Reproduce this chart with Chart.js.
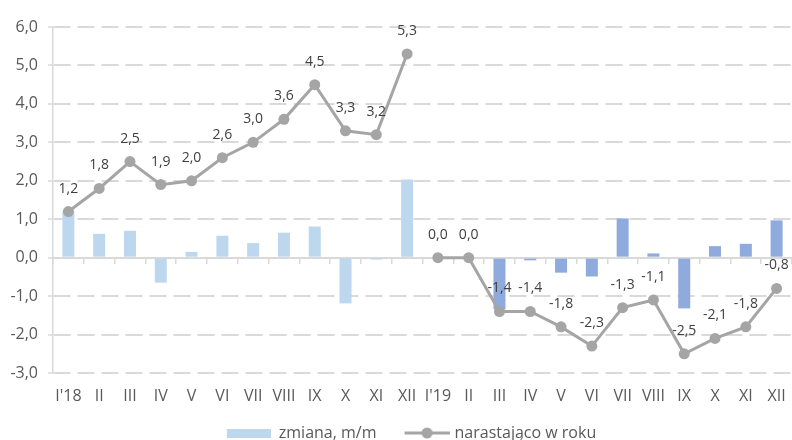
<!DOCTYPE html>
<html>
<head>
<meta charset="utf-8">
<script src="https://cdn.jsdelivr.net/npm/chart.js@4/dist/chart.umd.min.js"></script>
<style>
  html, body { margin: 0; padding: 0; background: #ffffff; }
  #wrap { width: 792px; height: 440px; overflow: hidden; position: relative; }
  canvas { display: block; }
</style>
</head>
<body>
<div id="wrap"><canvas id="chart" width="792" height="451"></canvas></div>
<script>
// Miesiące 2018–2019
const months = ["I'18", "II", "III", "IV", "V", "VI", "VII", "VIII", "IX", "X", "XI", "XII",
                "I'19", "II", "III", "IV", "V", "VI", "VII", "VIII", "IX", "X", "XI", "XII"];

// zmiana, m/m
const monthlyChange = [1.2, 0.62, 0.7, -0.65, 0.15, 0.57, 0.38, 0.65, 0.81, -1.19, -0.05, 2.03,
                       0.0, 0.0, -1.34, -0.07, -0.39, -0.49, 1.02, 0.11, -1.32, 0.3, 0.36, 0.97];

// narastająco w roku
const cumulative = [1.2, 1.8, 2.5, 1.9, 2.0, 2.6, 3.0, 3.6, 4.5, 3.3, 3.2, 5.3,
                    0.0, 0.0, -1.4, -1.4, -1.8, -2.3, -1.3, -1.1, -2.5, -2.1, -1.8, -0.8];

const yTicks = { min: -3, max: 6, step: 1 };

const FONT = "'Open Sans', 'Noto Sans', sans-serif";
const BAR_2018 = '#BDD7EE';
const BAR_2019 = '#8FAADC';
const LINE_GREY = '#A5A5A5';
const GRID = '#D9D9D9';
const TEXT = '#595959';
const YEAR_BREAK = 11; // last month of 2018
const LEGEND_BOX = 50;

const fmt = v => v.toFixed(1).replace('.', ',').replace('-0,0', '0,0');

// widest y tick label, used to right-align the mirrored labels left of the axis
const widestYLabel = (() => {
  const g = document.createElement('canvas').getContext('2d');
  g.font = '16px ' + FONT;
  let w = 0;
  for (let v = yTicks.min; v <= yTicks.max; v += yTicks.step) {
    w = Math.max(w, g.measureText(fmt(v)).width);
  }
  return w;
})();

// legend swatches
function barSwatch() {
  const c = document.createElement('canvas');
  c.width = LEGEND_BOX; c.height = 9;
  const g = c.getContext('2d');
  g.fillStyle = BAR_2018;
  g.fillRect(LEGEND_BOX - 44, 0, 44, 9);
  return c;
}
function lineSwatch() {
  const c = document.createElement('canvas');
  c.width = LEGEND_BOX + 6; c.height = 12;
  const g = c.getContext('2d');
  g.strokeStyle = LINE_GREY;
  g.lineWidth = 3;
  g.beginPath();
  g.moveTo(11, 6); g.lineTo(56, 6);
  g.stroke();
  g.fillStyle = LINE_GREY;
  g.beginPath();
  g.arc(33.5, 6, 5.5, 0, Math.PI * 2);
  g.fill();
  return c;
}
const swatches = [barSwatch(), lineSwatch()];

// value labels above the cumulative line
const pointLabels = {
  id: 'pointLabels',
  afterDatasetsDraw(chart) {
    const meta = chart.getDatasetMeta(1);
    const data = chart.data.datasets[1].data;
    const ctx = chart.ctx;
    ctx.save();
    ctx.font = '14px ' + FONT;
    ctx.fillStyle = '#404040';
    ctx.textAlign = 'center';
    ctx.textBaseline = 'middle';
    meta.data.forEach((pt, i) => {
      ctx.fillText(fmt(data[i]), pt.x, pt.y - 23);
    });
    ctx.restore();
  }
};

new Chart(document.getElementById('chart'), {
  data: {
    labels: months,
    datasets: [
      {
        type: 'bar',
        label: 'zmiana, m/m',
        data: monthlyChange,
        backgroundColor: months.map((m, i) => i <= YEAR_BREAK ? BAR_2018 : BAR_2019),
        barPercentage: 0.78,
        categoryPercentage: 0.5,
        order: 2
      },
      {
        type: 'line',
        label: 'narastająco w roku',
        data: cumulative,
        borderColor: LINE_GREY,
        backgroundColor: LINE_GREY,
        borderWidth: 3,
        pointRadius: 5.5,
        pointHoverRadius: 5.5,
        pointBackgroundColor: LINE_GREY,
        pointBorderWidth: 0,
        tension: 0,
        // no segment joining December with the new year's January
        segment: {
          borderColor: ctx => ctx.p0DataIndex === YEAR_BREAK ? 'rgba(0,0,0,0)' : LINE_GREY
        },
        order: 1
      }
    ]
  },
  options: {
    responsive: false,
    animation: false,
    events: [],
    layout: { autoPadding: false, padding: { top: 27, right: 0, bottom: 0, left: 25 } },
    scales: {
      x: {
        type: 'category',
        offset: true,
        grid: { display: false, drawTicks: false },
        border: { display: false },
        afterFit(scale) {
          scale.height = 32;
          scale.paddingLeft = 0;
          scale.paddingRight = 0;
        },
        ticks: {
          color: TEXT,
          font: { family: FONT, size: 16, lineHeight: '46px' },
          padding: 0,
          maxRotation: 0,
          autoSkip: false
        }
      },
      xZero: {
        type: 'category',
        position: { y: 0 },
        offset: true,
        grid: {
          offset: true,
          drawOnChartArea: false,
          drawTicks: true,
          tickLength: 5,
          color: GRID,
          lineWidth: 1.5
        },
        border: { display: true, color: GRID, width: 2 },
        ticks: { display: false }
      },
      y: {
        min: yTicks.min,
        max: yTicks.max,
        afterFit(scale) { scale.width = 28; },
        grid: {
          color: GRID,
          lineWidth: 2,
          drawTicks: true,
          tickLength: 5,
          tickColor: GRID,
          tickWidth: 1.5
        },
        border: { display: true, color: GRID, width: 1.5, dash: [17, 7] },
        ticks: {
          stepSize: yTicks.step,
          color: TEXT,
          mirror: true,
          crossAlign: 'far',
          padding: -15 - widestYLabel,
          font: { family: FONT, size: 16 },
          callback: v => fmt(v)
        }
      }
    },
    plugins: {
      tooltip: { enabled: false },
      legend: {
        position: 'bottom',
        fullSize: true,
        labels: {
          usePointStyle: true,
          pointStyleWidth: LEGEND_BOX,
          boxHeight: 12,
          padding: 20,
          color: TEXT,
          font: { family: FONT, size: 16 },
          generateLabels(chart) {
            const items = Chart.defaults.plugins.legend.labels.generateLabels(chart);
            items.sort((a, b) => a.datasetIndex - b.datasetIndex);
            return items.map(it => Object.assign(it, { pointStyle: swatches[it.datasetIndex] }));
          }
        }
      }
    }
  },
  plugins: [pointLabels]
});
</script>
</body>
</html>
